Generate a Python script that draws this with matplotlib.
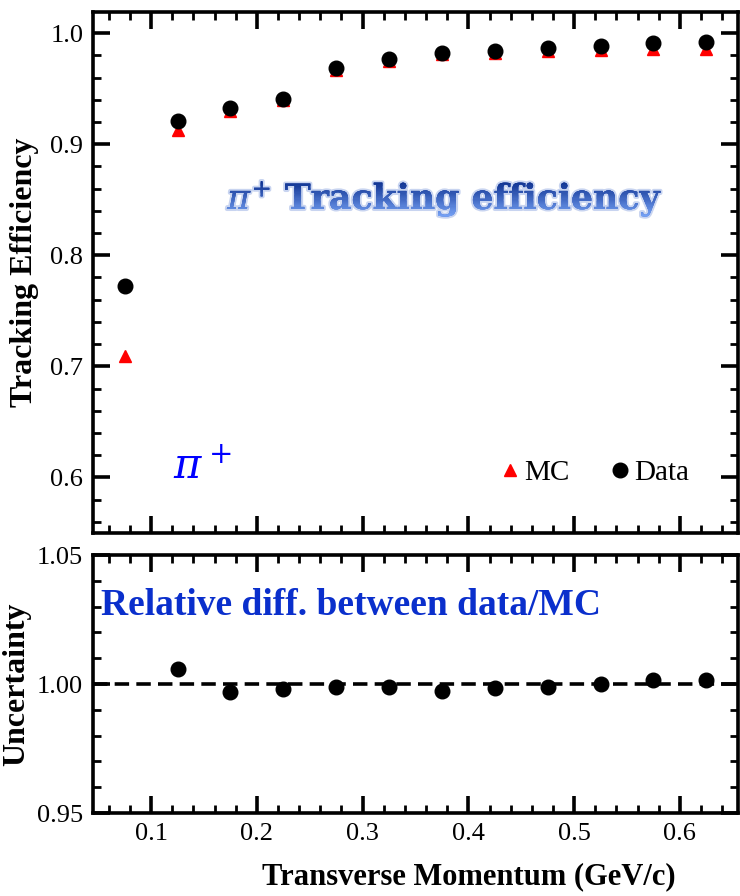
import numpy as np
import matplotlib
matplotlib.use("Agg")
import matplotlib.pyplot as plt
import matplotlib.patheffects as pe
from matplotlib.ticker import MultipleLocator, FixedLocator, FormatStrFormatter
from matplotlib.transforms import Bbox

# data
pt = [0.075, 0.125, 0.175, 0.225, 0.275, 0.325, 0.375, 0.425, 0.475, 0.525, 0.575, 0.625]
eff_data = [0.772, 0.921, 0.933, 0.941, 0.969, 0.977, 0.982, 0.984, 0.987, 0.988, 0.991, 0.992]
eff_mc = [0.709, 0.913, 0.930, 0.940, 0.967, 0.975, 0.981, 0.982, 0.984, 0.985, 0.986, 0.986]
ratio_pt = pt[1:]
ratio = [1.0059, 0.9968, 0.9980, 0.9987, 0.9987, 0.9974, 0.9984, 0.9990, 1.0000, 1.0016, 1.0017]
x_ticks = [0.1, 0.2, 0.3, 0.4, 0.5, 0.6]

SERIF = "Liberation Serif"
plt.rcParams["font.family"] = [SERIF, "DejaVu Serif"]
plt.rcParams["mathtext.fontset"] = "dejavuserif"


class GradientFill(pe.AbstractPathEffect):
    """Remplit le texte avec un dégradé vertical (bandes horizontales)"""

    def __init__(self, c_top, c_bot, n=30):
        super().__init__()
        self.c_top = np.array(matplotlib.colors.to_rgb(c_top))
        self.c_bot = np.array(matplotlib.colors.to_rgb(c_bot))
        self.n = n

    def draw_path(self, renderer, gc, tpath, affine, rgbFace=None):
        ext = tpath.get_extents(affine)
        h = ext.height / self.n
        for i in range(self.n):
            gc0 = renderer.new_gc()
            gc0.copy_properties(gc)
            gc0.set_linewidth(0)
            y1 = ext.y1 - i * h
            y0 = y1 - h
            gc0.set_clip_rectangle(Bbox.from_extents(ext.x0 - 3, np.floor(y0) - 0.5,
                                                     ext.x1 + 3, np.ceil(y1) + 0.5))
            t = i / (self.n - 1)
            col = tuple(self.c_top * (1 - t) + self.c_bot * t)
            renderer.draw_path(gc0, tpath, affine, col)
            gc0.restore()


def style_axes(ax, ymaj, ymin_step):
    for s in ax.spines.values():
        s.set_linewidth(2.6)
    ax.xaxis.set_major_locator(FixedLocator(x_ticks))
    ax.xaxis.set_minor_locator(MultipleLocator(0.02))
    ax.yaxis.set_major_locator(FixedLocator(ymaj))
    ax.yaxis.set_minor_locator(MultipleLocator(ymin_step))
    ax.tick_params(which="both", direction="in", top=True, right=True)
    ax.tick_params(which="major", length=12, width=2.6, labelsize=19, pad=7)
    ax.tick_params(which="minor", length=6, width=2.0)


fig = plt.figure(figsize=(7.4, 8.96), dpi=100)
W, H = 740, 896
ax1 = fig.add_axes([93 / W, 1 - 533 / H, (738 - 93) / W, (533 - 12) / H])
ax2 = fig.add_axes([93 / W, 1 - 813 / H, (738 - 93) / W, (813 - 555) / H])

# panneau du haut
ax1.plot(pt, eff_mc, linestyle="none", marker="^", color="red", ms=9, zorder=3, label="MC")
ax1.plot(pt, eff_data, linestyle="none", marker="o", color="black", ms=10.5, zorder=4, label="Data")
ax1.set_xlim(0.045, 0.655)
ax1.set_ylim(0.55, 1.019)
style_axes(ax1, [0.6, 0.7, 0.8, 0.9, 1.0], 0.02)
ax1.tick_params(labelbottom=False)
ax1.yaxis.set_major_formatter(FormatStrFormatter("%.1f"))
ax1.set_ylabel("Tracking Efficiency", fontsize=23, fontweight="bold", labelpad=8)

leg = ax1.legend(loc="lower right", bbox_to_anchor=(0.965, 0.04), ncol=2, frameon=False,
                 fontsize=21, handlelength=0.6, handletextpad=0.2, columnspacing=1.4)

ax1.text(0.17, 0.123, r"$\pi^+$", transform=ax1.transAxes, color="blue",
         fontsize=30, ha="center", va="center")

title = ax1.text(0.546, 0.642, r"$\pi^{+}$ Tracking efficiency", transform=ax1.transAxes,
                 fontsize=25, fontweight="bold", family="DejaVu Serif",
                 ha="center", va="center", color="#3a62c8")
title.set_path_effects([
    pe.withStroke(linewidth=3, foreground="#c8d4f0"),
    GradientFill("#0c2f8e", "#74a0f4"),
])

# panneau du bas
ax2.plot(ratio_pt, ratio, linestyle="none", marker="o", color="black", ms=10.5, zorder=4)
ax2.axhline(1.0, color="black", lw=2.6, dashes=(4, 2), zorder=3)
ax2.set_xlim(0.045, 0.655)
ax2.set_ylim(0.95, 1.05)
style_axes(ax2, [0.95, 1.0, 1.05], 0.01)
ax2.yaxis.set_major_formatter(FormatStrFormatter("%.2f"))
ax2.set_ylabel("Uncertainty", fontsize=23, fontweight="bold", labelpad=4)
ax2.set_xlabel("Transverse Momentum (GeV/c)", fontsize=22, fontweight="bold")
ax2.xaxis.set_label_coords(0.583, -0.19)
ax2.text(0.012, 0.805, "Relative diff. between data/MC", transform=ax2.transAxes,
         color="#0a2fcc", fontsize=27, fontweight="bold", ha="left", va="center")

fig.savefig("out.png", dpi=100)
